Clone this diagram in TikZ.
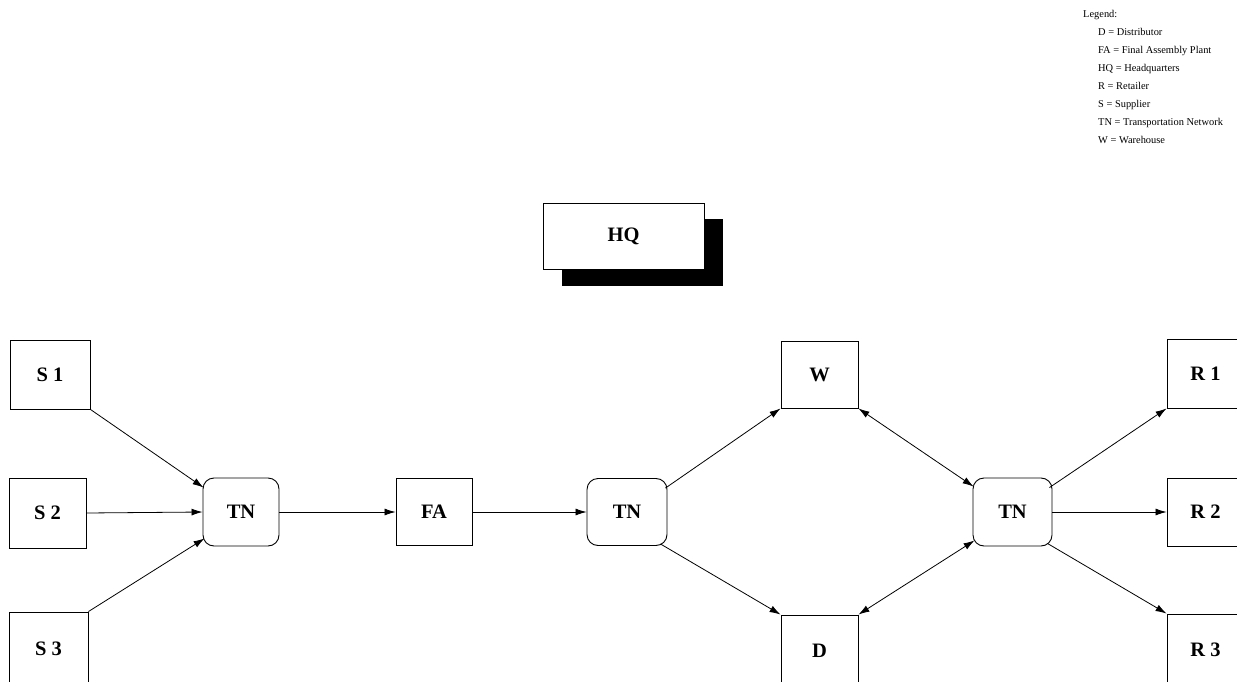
\documentclass[tikz,border=0pt]{standalone}
\usepackage{fontspec}
\setmainfont{Liberation Serif}
\usetikzlibrary{arrows.meta,calc}
\begin{document}
\begin{tikzpicture}[x=1pt,y=-1pt,
  box/.style={draw,line width=0.9pt,fill=white,inner sep=0pt,font=\fontsize{20.5}{22}\selectfont\bfseries},
  tnbox/.style={box,rounded corners=11pt},
  conn/.style={line width=0.8pt,-{Latex[length=11pt,width=7pt]}},
  bconn/.style={line width=0.8pt,{Latex[length=11pt,width=7pt]}-{Latex[length=11pt,width=7pt]}},
  leg/.style={anchor=base west,inner sep=0pt,font=\fontsize{10.4}{12}\selectfont}]
\clip (0,0) rectangle (1237,682);
\fill[white] (0,0) rectangle (1237,682);
% legend
\node[leg] (lg) at (1083,17.5) {Legend:};
\node[leg] (l1) at (1098,35.5) {D = Distributor};
\node[leg] (l2) at (1098,53.5) {FA = Final Assembly Plant};
\node[leg] (l3) at (1098,71.5) {HQ = Headquarters};
\node[leg] (l4) at (1098,89.5) {R = Retailer};
\node[leg] (l5) at (1098,107.5) {S = Supplier};
\node[leg] (l6) at (1098,125.5) {TN = Transportation Network};
\node[leg] (l7) at (1098,143.5) {W = Warehouse};
% HQ with shadow
\fill[black] (562,219) rectangle (723,286);
\node[box,minimum width=161pt,minimum height=66pt] (hq) at (623.5,236) {HQ};
% nodes
\node[box,minimum width=80pt,minimum height=69pt] (s1) at (50,374.5) {S 1};
\node[box,minimum width=77pt,minimum height=70pt] (s2) at (47.5,513) {S 2};
\node[box,minimum width=79pt,minimum height=74pt] (s3) at (48.5,649) {S 3};
\node[tnbox,minimum width=76pt,minimum height=68pt] (tn1) at (241,512) {TN};
\node[box,minimum width=76pt,minimum height=67pt] (fa) at (434,512) {FA};
\node[tnbox,minimum width=80pt,minimum height=67pt] (tn2) at (627,512) {TN};
\node[box,minimum width=77pt,minimum height=67pt] (w) at (819.5,374.5) {W};
\node[box,minimum width=77pt,minimum height=72pt] (d) at (819.5,651) {D};
\node[tnbox,minimum width=79pt,minimum height=68pt] (tn3) at (1012.5,512) {TN};
\node[box,minimum width=77pt,minimum height=69pt] (r1) at (1205.5,373.5) {R 1};
\node[box,minimum width=77pt,minimum height=68pt] (r2) at (1205.5,512) {R 2};
\node[box,minimum width=77pt,minimum height=72pt] (r3) at (1205.5,650) {R 3};
% connectors
\draw[conn] (s1.south east) -- ($(tn1.north west)+(1,10)$);
\draw[conn] (s2.east) -- (tn1.west);
\draw[conn] (s3.north east) -- ($(tn1.south west)+(2,-8)$);
\draw[conn] (tn1.east) -- (fa.west);
\draw[conn] (fa.east) -- (tn2.west);
\draw[conn] ($(tn2.north east)+(-2,10)$) -- (w.south west);
\draw[conn] ($(tn2.south east)+(-7,-2)$) -- (d.north west);
\draw[bconn] (w.south east) -- ($(tn3.north west)+(1,9)$);
\draw[bconn] (d.north east) -- ($(tn3.south west)+(2,-6)$);
\draw[conn] ($(tn3.north east)+(-3,10)$) -- (r1.south west);
\draw[conn] (tn3.east) -- (r2.west);
\draw[conn] ($(tn3.south east)+(-5,-3)$) -- (r3.north west);
\end{tikzpicture}
\end{document}
